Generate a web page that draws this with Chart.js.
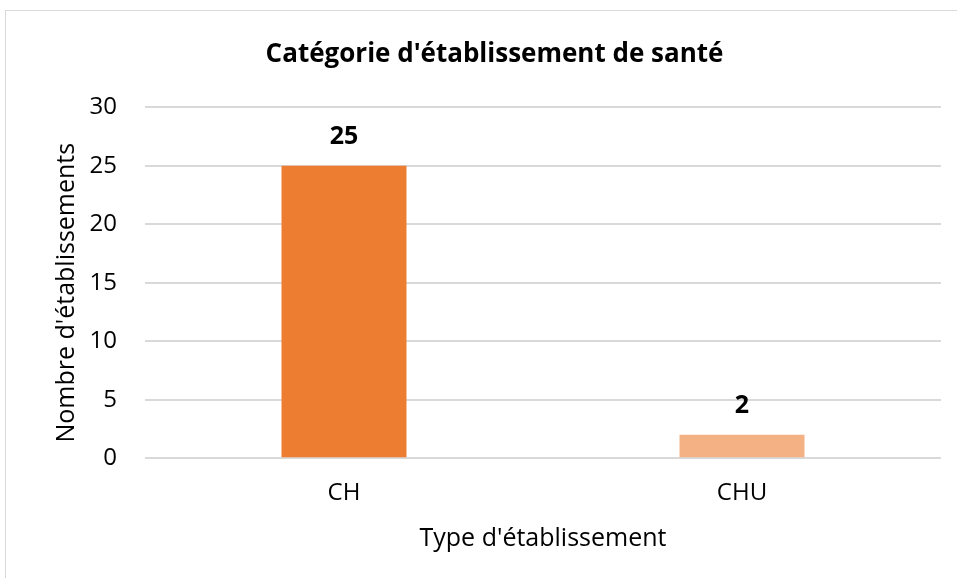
<!DOCTYPE html>
<html>
<head>
<meta charset="utf-8">
<script src="https://cdn.jsdelivr.net/npm/chart.js@4"></script>
<style>
  html, body { margin: 0; padding: 0; background: #fff; }
  #frame { position: absolute; left: 5px; top: 10px; width: 960px; height: 580px; border: 1px solid #d9d9d9; box-sizing: border-box; }
  #wrap { position: absolute; left: 0; top: 0; width: 957px; height: 578px; }
</style>
</head>
<body>
<div id="frame"></div>
<div id="wrap"><canvas id="chart" width="957" height="578"></canvas></div>
<script>
// Chart data
const categories = ['CH', 'CHU'];
const counts = [25, 2];
const barColors = ['#ED7D31', '#F4B183'];
const yTicks = [0, 5, 10, 15, 20, 25, 30];
const yTitle = "Nombre d'établissements";

const fontFamily = '"Open Sans", Lato, sans-serif';

// Draw the value above each bar
const valueLabels = {
    id: 'valueLabels',
    afterDatasetsDraw(chart) {
        const ctx = chart.ctx;
        const meta = chart.getDatasetMeta(0);
        ctx.save();
        ctx.font = 'bold 25px ' + fontFamily;
        ctx.fillStyle = '#000';
        ctx.textAlign = 'center';
        ctx.textBaseline = 'middle';
        meta.data.forEach((bar, i) => {
            ctx.fillText(counts[i], bar.x, bar.y - 29);
        });
        ctx.restore();
    }
};

// Y axis title, drawn a bit lower than centre like the original
const yAxisTitle = {
    id: 'yAxisTitle',
    afterDraw(chart) {
        const ctx = chart.ctx;
        const area = chart.chartArea;
        ctx.save();
        ctx.translate(67, (area.top + area.bottom) / 2 + 10);
        ctx.rotate(-Math.PI / 2);
        ctx.font = '25px ' + fontFamily;
        ctx.fillStyle = '#000';
        ctx.textAlign = 'center';
        ctx.textBaseline = 'middle';
        ctx.fillText(yTitle, 0, 0);
        ctx.restore();
    }
};

new Chart(document.getElementById('chart'), {
    type: 'bar',
    data: {
        labels: categories,
        datasets: [{
            data: counts,
            backgroundColor: barColors,
            categoryPercentage: 1,
            barPercentage: 0.314
        }]
    },
    options: {
        responsive: false,
        animation: false,
        layout: { padding: { left: 48, right: 16, top: 39, bottom: 20 } },
        plugins: {
            legend: { display: false },
            tooltip: { enabled: false },
            title: {
                display: true,
                text: "Catégorie d'établissement de santé",
                color: '#000',
                font: { family: fontFamily, size: 26, weight: 'bold' },
                padding: { top: 0, bottom: 37 }
            }
        },
        scales: {
            x: {
                grid: { display: false },
                border: { display: false },
                ticks: { color: '#000', font: { family: fontFamily, size: 24 }, padding: 13 },
                title: {
                    display: true,
                    text: "Type d'établissement",
                    color: '#000',
                    font: { family: fontFamily, size: 25 },
                    padding: { top: 3, bottom: 4 }
                }
            },
            y: {
                min: 0,
                max: 30,
                afterBuildTicks(scale) {
                    scale.ticks = yTicks.map(v => ({ value: v }));
                },
                afterFit(scale) { scale.width = 97; },
                grid: { color: '#d9d9d9', lineWidth: 2, drawTicks: false },
                border: { display: false },
                ticks: { color: '#000', font: { family: fontFamily, size: 24 }, padding: 28 }
            }
        }
    },
    plugins: [valueLabels, yAxisTitle]
});
</script>
</body>
</html>
